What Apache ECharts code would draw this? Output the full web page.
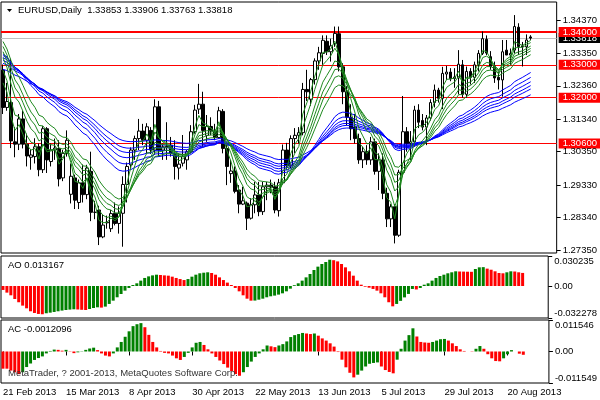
<!DOCTYPE html>
<html><head><meta charset="utf-8">
<script src="https://cdn.jsdelivr.net/npm/echarts@6/dist/echarts.min.js"></script>
<style>html,body{margin:0;padding:0;background:#fff}#c{width:600px;height:400px}</style>
</head><body><div id="c"></div>
<script>
const dates = ['21 Feb 2013','22 Feb 2013','25 Feb 2013','26 Feb 2013','27 Feb 2013','28 Feb 2013',
'1 Mar 2013','4 Mar 2013','5 Mar 2013','6 Mar 2013','7 Mar 2013','8 Mar 2013','11 Mar 2013','12 Mar 2013','13 Mar 2013','14 Mar 2013','15 Mar 2013','18 Mar 2013','19 Mar 2013','20 Mar 2013','21 Mar 2013','22 Mar 2013','25 Mar 2013','26 Mar 2013','27 Mar 2013','28 Mar 2013','29 Mar 2013',
'1 Apr 2013','2 Apr 2013','3 Apr 2013','4 Apr 2013','5 Apr 2013','8 Apr 2013','9 Apr 2013','10 Apr 2013','11 Apr 2013','12 Apr 2013','15 Apr 2013','16 Apr 2013','17 Apr 2013','18 Apr 2013','19 Apr 2013','22 Apr 2013','23 Apr 2013','24 Apr 2013','25 Apr 2013','26 Apr 2013','29 Apr 2013','30 Apr 2013',
'1 May 2013','2 May 2013','3 May 2013','6 May 2013','7 May 2013','8 May 2013','9 May 2013','10 May 2013','13 May 2013','14 May 2013','15 May 2013','16 May 2013','17 May 2013','20 May 2013','21 May 2013','22 May 2013','23 May 2013','24 May 2013','27 May 2013','28 May 2013','29 May 2013','30 May 2013','31 May 2013',
'3 Jun 2013','4 Jun 2013','5 Jun 2013','6 Jun 2013','7 Jun 2013','10 Jun 2013','11 Jun 2013','12 Jun 2013','13 Jun 2013','14 Jun 2013','17 Jun 2013','18 Jun 2013','19 Jun 2013','20 Jun 2013','21 Jun 2013','24 Jun 2013','25 Jun 2013','26 Jun 2013','27 Jun 2013','28 Jun 2013',
'1 Jul 2013','2 Jul 2013','3 Jul 2013','4 Jul 2013','5 Jul 2013','8 Jul 2013','9 Jul 2013','10 Jul 2013','11 Jul 2013','12 Jul 2013','15 Jul 2013','16 Jul 2013','17 Jul 2013','18 Jul 2013','19 Jul 2013','22 Jul 2013','23 Jul 2013','24 Jul 2013','25 Jul 2013','26 Jul 2013','29 Jul 2013','30 Jul 2013','31 Jul 2013',
'1 Aug 2013','2 Aug 2013','5 Aug 2013','6 Aug 2013','7 Aug 2013','8 Aug 2013','9 Aug 2013','12 Aug 2013','13 Aug 2013','14 Aug 2013','15 Aug 2013','16 Aug 2013','19 Aug 2013','20 Aug 2013','21 Aug 2013','22 Aug 2013','23 Aug 2013','26 Aug 2013'];

const opens = [1.3284,1.3170,1.3185,1.3065,1.3058,1.3135,1.3058,1.3018,1.3020,1.3050,1.2980,1.3105,1.3005,1.3040,1.3045,1.2955,1.3030,1.2905,1.2955,1.2880,1.2940,1.2904,1.2975,1.2850,1.2857,1.2775,1.2818,1.2800,1.2847,1.2816,1.2847,1.2935,1.2995,1.3040,1.3075,1.3098,1.3070,1.3100,1.3040,1.3172,1.3040,1.3050,1.3055,1.3030,1.2985,1.3000,1.3010,1.3035,1.3096,1.3165,1.3180,1.3085,1.3112,1.3098,1.3078,1.3158,1.3045,1.2968,1.2976,1.2918,1.2875,1.2878,1.2832,1.2873,1.2903,1.2852,1.2928,1.2933,1.2928,1.2855,1.2940,1.3040,1.2992,1.3075,1.3085,1.3093,1.3225,1.3195,1.3255,1.3312,1.3335,1.3372,1.3340,1.3365,1.3395,1.3294,1.3218,1.3140,1.3110,1.3075,1.3010,1.3035,1.3010,1.3065,1.2975,1.3010,1.2908,1.2830,1.2867,1.2780,1.2972,1.3096,1.3060,1.3065,1.3162,1.3130,1.3110,1.3138,1.3185,1.3223,1.3198,1.3272,1.3278,1.3258,1.3260,1.3300,1.3210,1.3280,1.3262,1.3300,1.3335,1.3378,1.3325,1.3297,1.3262,1.3254,1.3345,1.3330,1.3345,1.3415,1.3358,1.3355,1.33853];
const highs = [1.3301,1.3245,1.3319,1.3110,1.3150,1.3160,1.3090,1.3040,1.3076,1.3060,1.3113,1.3110,1.3060,1.3075,1.3070,1.3040,1.3100,1.2999,1.2965,1.2950,1.2996,1.2995,1.3035,1.2885,1.2870,1.2843,1.2840,1.2857,1.2880,1.2868,1.2960,1.3002,1.3048,1.3084,1.3135,1.3120,1.3122,1.3110,1.3195,1.3190,1.3060,1.3125,1.3080,1.3070,1.3030,1.3086,1.3040,1.3116,1.3178,1.3242,1.3218,1.3147,1.3140,1.3120,1.3172,1.3165,1.3055,1.3010,1.2990,1.2933,1.2928,1.2883,1.2893,1.2943,1.2943,1.2943,1.2943,1.2950,1.2943,1.2952,1.3057,1.3062,1.3085,1.3107,1.3110,1.3245,1.3285,1.3260,1.3320,1.3355,1.3390,1.3390,1.3380,1.3417,1.3417,1.3305,1.3235,1.3180,1.3150,1.3090,1.3050,1.3055,1.3080,1.3075,1.3030,1.3030,1.2925,1.2875,1.2875,1.2980,1.3205,1.3110,1.3098,1.3175,1.3180,1.3150,1.3147,1.3195,1.3240,1.3230,1.3294,1.3297,1.3290,1.3290,1.3345,1.3315,1.3295,1.3290,1.3310,1.3345,1.3402,1.3390,1.3342,1.3310,1.3280,1.3376,1.3376,1.3350,1.3452,1.3427,1.3370,1.3393,1.33906];
const lows = [1.3150,1.3160,1.3046,1.3018,1.3040,1.3045,1.2990,1.2980,1.2999,1.2960,1.2970,1.2970,1.2990,1.3010,1.2929,1.2945,1.3020,1.2877,1.2860,1.2860,1.2880,1.2890,1.2823,1.2829,1.2750,1.2771,1.2800,1.2790,1.2810,1.2785,1.2745,1.2880,1.2985,1.3010,1.3040,1.3055,1.3030,1.3028,1.3025,1.3020,1.3010,1.3010,1.3020,1.2950,1.2950,1.2990,1.2980,1.3030,1.3090,1.3150,1.3050,1.3065,1.3085,1.3070,1.3075,1.3030,1.2933,1.2940,1.2908,1.2847,1.2872,1.2796,1.2828,1.2847,1.2838,1.2842,1.2887,1.2908,1.2847,1.2837,1.2935,1.2980,1.2985,1.3030,1.3060,1.3085,1.3190,1.3175,1.3240,1.3285,1.3300,1.3330,1.3310,1.3355,1.3280,1.3180,1.3115,1.3070,1.3060,1.2998,1.2985,1.2995,1.2995,1.2965,1.2918,1.2890,1.2805,1.2805,1.2755,1.2775,1.2960,1.3035,1.3010,1.3050,1.3107,1.3100,1.3055,1.3130,1.3170,1.3185,1.3165,1.3254,1.3250,1.3230,1.3210,1.3200,1.3200,1.3240,1.3245,1.3280,1.3330,1.3330,1.3285,1.3245,1.3225,1.3203,1.3330,1.3300,1.3335,1.3330,1.3295,1.3330,1.33763];
const closes = [1.3170,1.3188,1.3068,1.3058,1.3135,1.3058,1.3022,1.3025,1.3050,1.2980,1.3105,1.3010,1.3040,1.3046,1.2952,1.3030,1.3070,1.2960,1.2887,1.2940,1.2904,1.2985,1.2850,1.2850,1.2775,1.2811,1.2820,1.2846,1.2816,1.2847,1.2935,1.2990,1.3040,1.3075,1.3098,1.3070,1.3111,1.3040,1.3172,1.3040,1.3050,1.3052,1.3030,1.2990,1.2997,1.3020,1.3035,1.3096,1.3162,1.3180,1.3100,1.3112,1.3098,1.3078,1.3160,1.3045,1.2990,1.2976,1.2914,1.2875,1.2885,1.2832,1.2873,1.2903,1.2852,1.2928,1.2933,1.2927,1.2857,1.2940,1.3040,1.2992,1.3075,1.3085,1.3093,1.3225,1.3218,1.3255,1.3312,1.3337,1.3375,1.3340,1.3358,1.3396,1.3294,1.3218,1.3140,1.3105,1.3075,1.3010,1.3035,1.3010,1.3065,1.2975,1.3010,1.2908,1.2830,1.2867,1.2780,1.2972,1.3096,1.3060,1.3065,1.3162,1.3125,1.3110,1.3138,1.3185,1.3223,1.3198,1.3274,1.3278,1.3258,1.3263,1.3302,1.3210,1.3280,1.3262,1.3300,1.3335,1.3380,1.3336,1.3295,1.3260,1.3254,1.3340,1.3330,1.3335,1.3417,1.3356,1.3355,1.3376,1.33818];

// GMMA: short (green) and long (blue) EMAs, seeded with the values read at the left edge
const shortPeriods = [3,5,8,10,12,15];
const shortSeeds = [1.3320,1.3340,1.3365,1.3378,1.3390,1.3400];
const longPeriods = [30,35,40,45,50,60];
const longSeeds = [1.3345,1.3338,1.3330,1.3320,1.3310,1.3290];

const aoValues = [-0.0040,-0.0067,-0.0094,-0.0131,-0.0164,-0.0198,-0.0225,-0.0255,-0.0272,-0.0282,-0.0285,-0.0275,-0.0269,-0.0262,-0.0255,-0.0248,-0.0242,-0.0238,-0.0235,-0.0237,-0.0240,-0.0242,-0.0232,-0.0222,-0.0215,-0.0218,-0.0208,-0.0181,-0.0148,-0.0114,-0.0081,-0.0047,-0.0020,0.0010,0.0027,0.0054,0.0081,0.0097,0.0107,0.0114,0.0111,0.0107,0.0104,0.0094,0.0081,0.0070,0.0060,0.0070,0.0094,0.0114,0.0128,0.0134,0.0138,0.0131,0.0114,0.0087,0.0060,0.0034,0.0010,-0.0020,-0.0054,-0.0094,-0.0128,-0.0148,-0.0147,-0.0138,-0.0128,-0.0114,-0.0104,-0.0097,-0.0087,-0.0074,-0.0054,-0.0027,0.0008,0.0027,0.0054,0.0087,0.0121,0.0161,0.0195,0.0222,0.0242,0.0265,0.0260,0.0248,0.0222,0.0188,0.0148,0.0104,0.0054,0.0013,-0.0007,-0.0017,-0.0030,-0.0047,-0.0074,-0.0114,-0.0164,-0.0205,-0.0181,-0.0150,-0.0115,-0.0080,-0.0030,-0.0035,-0.0020,0.0013,0.0027,0.0054,0.0081,0.0101,0.0114,0.0128,0.0138,0.0148,0.0146,0.0145,0.0144,0.0143,0.0171,0.0188,0.0190,0.0175,0.0164,0.0148,0.0131,0.0128,0.0138,0.0148,0.0146,0.0138,0.013167];
const acValues = [-0.0063,-0.0063,-0.0070,-0.0076,-0.0083,-0.0076,-0.0057,-0.0044,-0.0031,-0.0024,-0.0018,-0.0007,0.0002,0.0007,0.0006,0.0003,0.0006,-0.0001,-0.0006,-0.0003,0.0001,0.0006,0.0011,0.0014,0.0005,-0.0007,-0.0015,-0.0018,-0.0007,0.0015,0.0035,0.0054,0.0074,0.0093,0.0100,0.0104,0.0089,0.0061,0.0035,0.0015,0.0002,-0.0005,-0.0007,-0.0015,-0.0025,-0.0031,-0.0020,-0.0005,0.0015,0.0032,0.0035,0.0024,0.0008,-0.0007,-0.0020,-0.0033,-0.0046,-0.0059,-0.0072,-0.0083,-0.0089,-0.0076,-0.0057,-0.0037,-0.0020,-0.0007,0.0008,0.0022,0.0019,0.0016,0.0022,0.0027,0.0037,0.0053,0.0060,0.0064,0.0068,0.0066,0.0064,0.0066,0.0058,0.0048,0.0040,0.0030,0.0018,-0.0002,-0.0030,-0.0058,-0.0078,-0.0095,-0.0085,-0.0070,-0.0055,-0.0045,-0.0042,-0.0040,-0.0055,-0.0068,-0.0075,-0.0080,-0.0030,0.0010,0.0040,0.0060,0.0085,0.0055,0.0035,0.0033,0.0032,0.0035,0.0040,0.0045,0.0046,0.0040,0.0030,0.0020,0.0008,0.0002,0.0000,-0.0001,0.0010,0.0020,0.0010,-0.0010,-0.0025,-0.0035,-0.0036,-0.0025,-0.0010,0.0005,0.0000,-0.0008,-0.0012096];

const priceTicks = [1.34370,1.33350,1.32360,1.31340,1.30350,1.29330,1.28340,1.27350];
const aoTicks = [0.030235,0,-0.032278];
const acTicks = [0.011546,0,-0.011549];
const levels = [1.34,1.33,1.32,1.306];
const symbolName = 'EURUSD,Daily';

const FONT = 'Liberation Sans';
const FS = 9.5;
const RED = '#ff0000', GREEN = '#008000', MAGREEN = '#1f8a1f', BLUE = '#0000ff';
const padBars = 6;
const cats = dates.concat(new Array(padBars).fill(''));
const last = closes.length - 1;

function ema(period, seed) {
  const a = 2 / (period + 1); let e = seed;
  return closes.map(c => (e = e + a * (c - e)));
}
function barColors(vals) {
  return vals.map((v, i) => ({ value: v, itemStyle: { color: (i > 0 && v > vals[i - 1]) ? GREEN : RED } }));
}

const chart = echarts.init(document.getElementById('c'), null, { renderer: 'canvas', devicePixelRatio: 1 });

const gridL = 1, gridW = 556;
const xBase = (gi, showLabels) => ({
  type: 'category', gridIndex: gi, data: cats, boundaryGap: true,
  axisLine: { show: false }, splitLine: { show: false },
  axisTick: { show: showLabels, interval: 15, alignWithLabel: true, length: 4, lineStyle: { color: '#000' } },
  axisLabel: { show: showLabels, interval: 15, align: 'left', margin: 4, fontFamily: FONT, fontSize: FS, color: '#000' }
});
const yBase = (gi, min, max, ticks, fmt, edgeAlign) => {
  const lab = { customValues: ticks, margin: 6, fontFamily: FONT, fontSize: FS, color: '#000', formatter: fmt, hideOverlap: false };
  if (edgeAlign) { lab.verticalAlignMinLabel = 'top'; lab.verticalAlignMaxLabel = 'bottom'; }
  return {
    type: 'value', gridIndex: gi, position: 'right', min, max, scale: true, z: 1,
    axisLine: { show: false }, splitLine: { show: false },
    axisTick: { show: true, length: 4, customValues: ticks, lineStyle: { color: '#000' } },
    axisLabel: lab
  };
};

const levelLine = (v, bg, width, lineColor) => ({
  yAxis: v,
  lineStyle: { color: lineColor, width, type: 'solid' },
  label: { show: true, position: 'end', distance: 2, formatter: () => v.toFixed(5), backgroundColor: bg,
    color: '#fff', fontFamily: FONT, fontSize: FS, padding: [0, 4, 0, 4], lineHeight: 10 }
});

const series = [];
series.push({
  type: 'candlestick', xAxisIndex: 0, yAxisIndex: 0, barWidth: 3, animation: false, z: 2,
  data: opens.map((o, i) => [o, closes[i], lows[i], highs[i]]),
  itemStyle: { color: '#ffffff', color0: '#000000', borderColor: '#000000', borderColor0: '#000000', borderWidth: 1 },
  markLine: {
    symbol: 'none', silent: true, animation: false, z: 1, precision: 5,
    data: [levelLine(closes[last], '#000', 1, '#c0c0c0')]
      .concat(levels.map((v, k) => levelLine(v, RED, k === 0 ? 2 : 1, RED)))
  }
});
longPeriods.forEach((p, k) => series.push({
  type: 'line', xAxisIndex: 0, yAxisIndex: 0, data: ema(p, longSeeds[k]), showSymbol: false, animation: false,
  lineStyle: { color: BLUE, width: 1 }, z: 3
}));
shortPeriods.forEach((p, k) => series.push({
  type: 'line', xAxisIndex: 0, yAxisIndex: 0, data: ema(p, shortSeeds[k]), showSymbol: false, animation: false,
  lineStyle: { color: MAGREEN, width: 1 }, z: 3
}));
series.push({ type: 'bar', xAxisIndex: 1, yAxisIndex: 1, barWidth: 3, animation: false, data: barColors(aoValues) });
series.push({ type: 'bar', xAxisIndex: 2, yAxisIndex: 2, barWidth: 3, animation: false, data: barColors(acValues) });

const header = symbolName + '  ' + [opens[last], highs[last], lows[last], closes[last]].map(v => v.toFixed(5)).join(' ');

chart.setOption({
  animation: false,
  backgroundColor: '#ffffff',
  grid: [
    { left: gridL, width: gridW, top: 2, height: 251, show: true, borderColor: '#000', borderWidth: 1, backgroundColor: 'transparent' },
    { left: gridL, width: gridW, top: 256, height: 62, show: true, borderColor: '#000', borderWidth: 1, backgroundColor: 'transparent' },
    { left: gridL, width: gridW, top: 320, height: 63, show: true, borderColor: '#000', borderWidth: 1, backgroundColor: 'transparent' }
  ],
  xAxis: [xBase(0, false), xBase(1, false), xBase(2, true)],
  yAxis: [
    yBase(0, 1.27258, 1.34919, priceTicks, v => v.toFixed(5), false),
    yBase(1, aoTicks[2], aoTicks[0], aoTicks, v => v === 0 ? '0.00' : String(v), true),
    yBase(2, acTicks[2], acTicks[0], acTicks, v => v === 0 ? '0.00' : String(v), true)
  ],
  series,
  graphic: [
    { type: 'polygon', shape: { points: [[7, 9], [12, 9], [9.5, 12]] }, style: { fill: '#000' }, z: 10 },
    { type: 'text', left: 18, top: 5, z: 10, style: { text: header, fontFamily: FONT, fontSize: FS, fill: '#000' } },
    { type: 'text', left: 8, top: 260, z: 10, style: { text: 'AO ' + aoValues[last].toFixed(6), fontFamily: FONT, fontSize: FS, fill: '#000' } },
    { type: 'text', left: 8, top: 324, z: 10, style: { text: 'AC ' + acValues[last].toFixed(7), fontFamily: FONT, fontSize: FS, fill: '#000' } },
    { type: 'text', left: 8, top: 368, z: 10, style: { text: 'MetaTrader, ? 2001-2013, MetaQuotes Software Corp.', fontFamily: FONT, fontSize: FS, fill: '#333' } }
  ]
});
</script></body></html>
